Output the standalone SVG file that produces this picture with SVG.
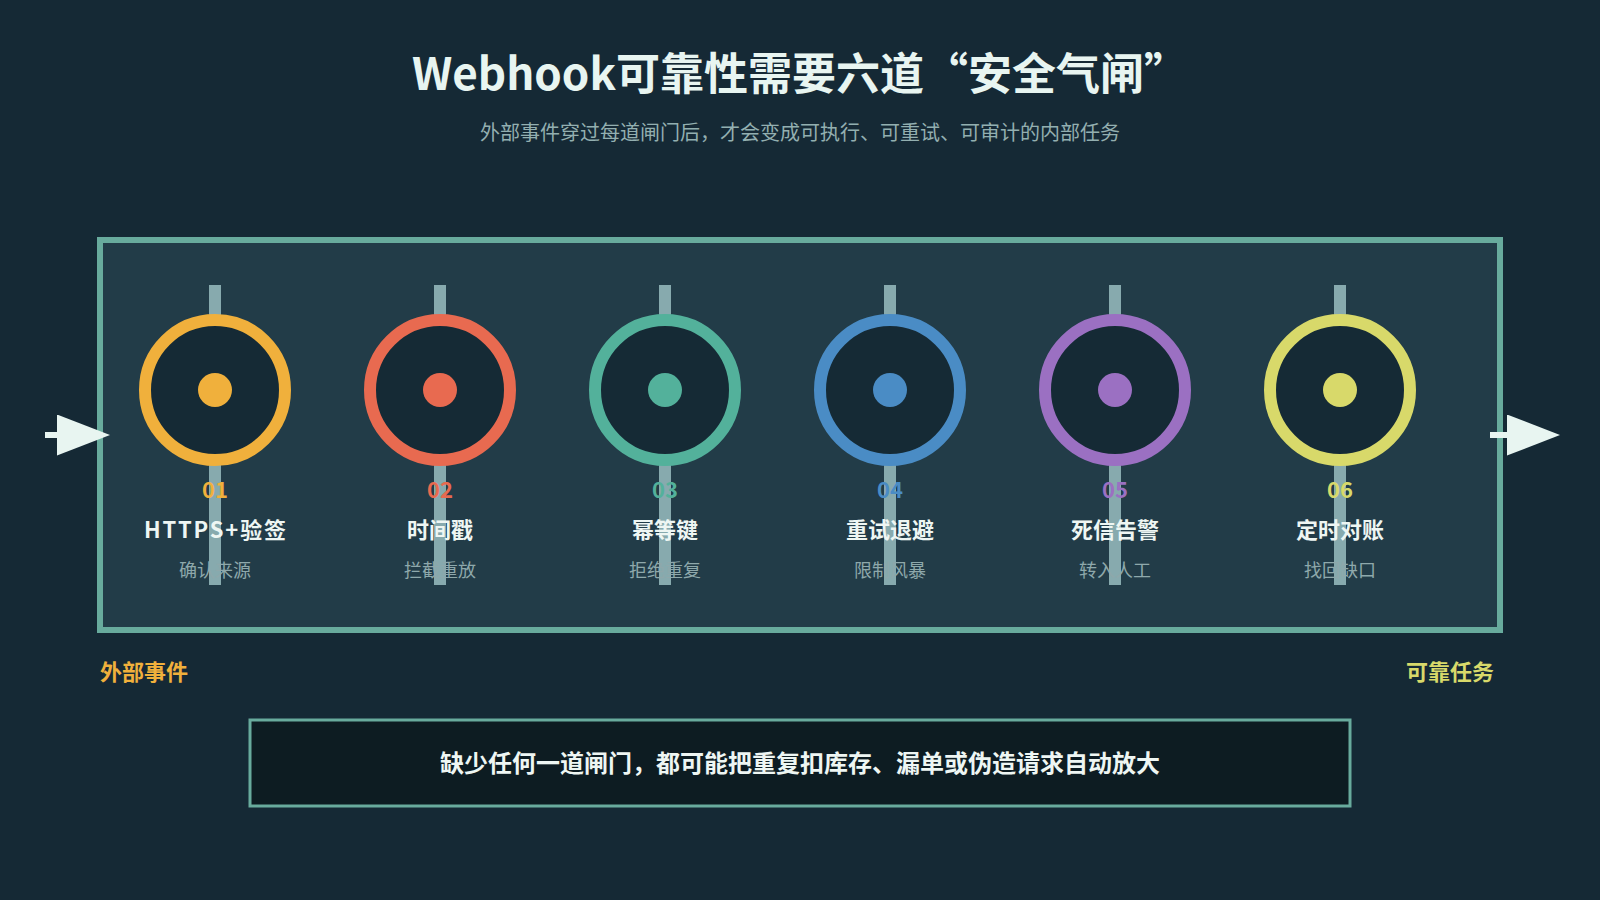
<svg xmlns="http://www.w3.org/2000/svg" width="1600" height="900" viewBox="0 0 1600 900">
<defs>
<style>
text{font-family:"Noto Sans CJK SC","Noto Sans",sans-serif;text-anchor:middle}
.title{font-size:44px;font-weight:700;fill:#e8f5f1}
.sub{font-size:20px;fill:#93afb0}
.bar{fill:#87aaae}
.ring{fill:#152a35;stroke-width:12}
.num{font-size:22px;font-weight:700}
.name{font-size:22px;font-weight:700;fill:#eef6f3}
.desc{font-size:18px;fill:#8ea8ab}
.conn{stroke:#e8f5f1;stroke-width:6;fill:none}
.lbl{font-size:22px;font-weight:700}
</style>
<marker id="arr" markerUnits="userSpaceOnUse" markerWidth="53" markerHeight="41" refX="3" refY="20.5" orient="auto">
<path d="M0,0 L53,20.5 L0,41 Z" fill="#e8f5f1"/>
</marker>
</defs>
<rect width="1600" height="900" fill="#152935"/>
<text class="title" x="800" y="90">Webhook可靠性需要六道“安全气闸”</text>
<text class="sub" x="800" y="140">外部事件穿过每道闸门后，才会变成可执行、可重试、可审计的内部任务</text>
<g id="frame">
<rect x="100" y="240" width="1400" height="390" fill="#223c48" stroke="#68ab9d" stroke-width="6"/>
</g>
<g id="connectors">
<line class="conn" x1="45" y1="435" x2="60" y2="435" marker-end="url(#arr)"/>
<line class="conn" x1="1490" y1="435" x2="1510" y2="435" marker-end="url(#arr)"/>
</g>
<g id="gate1">
<rect class="bar" x="209" y="285" width="12" height="300"/>
<circle class="ring" cx="215" cy="390" r="70" stroke="#f0b03c"/>
<circle cx="215" cy="390" r="17" fill="#f0b03c"/>
<text class="num" x="215" y="498" fill="#f0b03c">01</text>
<text class="name" x="215" y="538" textLength="142" lengthAdjust="spacing">HTTPS+验签</text>
<text class="desc" x="215" y="577">确认来源</text>
</g>
<g id="gate2">
<rect class="bar" x="434" y="285" width="12" height="300"/>
<circle class="ring" cx="440" cy="390" r="70" stroke="#e86a50"/>
<circle cx="440" cy="390" r="17" fill="#e86a50"/>
<text class="num" x="440" y="498" fill="#e86a50">02</text>
<text class="name" x="440" y="538">时间戳</text>
<text class="desc" x="440" y="577">拦截重放</text>
</g>
<g id="gate3">
<rect class="bar" x="659" y="285" width="12" height="300"/>
<circle class="ring" cx="665" cy="390" r="70" stroke="#53b19b"/>
<circle cx="665" cy="390" r="17" fill="#53b19b"/>
<text class="num" x="665" y="498" fill="#53b19b">03</text>
<text class="name" x="665" y="538">幂等键</text>
<text class="desc" x="665" y="577">拒绝重复</text>
</g>
<g id="gate4">
<rect class="bar" x="884" y="285" width="12" height="300"/>
<circle class="ring" cx="890" cy="390" r="70" stroke="#4a8cc5"/>
<circle cx="890" cy="390" r="17" fill="#4a8cc5"/>
<text class="num" x="890" y="498" fill="#4a8cc5">04</text>
<text class="name" x="890" y="538">重试退避</text>
<text class="desc" x="890" y="577">限制风暴</text>
</g>
<g id="gate5">
<rect class="bar" x="1109" y="285" width="12" height="300"/>
<circle class="ring" cx="1115" cy="390" r="70" stroke="#9b70c2"/>
<circle cx="1115" cy="390" r="17" fill="#9b70c2"/>
<text class="num" x="1115" y="498" fill="#9b70c2">05</text>
<text class="name" x="1115" y="538">死信告警</text>
<text class="desc" x="1115" y="577">转入人工</text>
</g>
<g id="gate6">
<rect class="bar" x="1334" y="285" width="12" height="300"/>
<circle class="ring" cx="1340" cy="390" r="70" stroke="#d8d96a"/>
<circle cx="1340" cy="390" r="17" fill="#d8d96a"/>
<text class="num" x="1340" y="498" fill="#d8d96a">06</text>
<text class="name" x="1340" y="538">定时对账</text>
<text class="desc" x="1340" y="577">找回缺口</text>
</g>
<g id="label-in">
<text class="lbl" x="100" y="680" style="text-anchor:start" fill="#f0b03c">外部事件</text>
</g>
<g id="label-out">
<text class="lbl" x="1494" y="680" style="text-anchor:end" fill="#d8d96a">可靠任务</text>
</g>
<g id="note">
<rect x="250" y="720" width="1100" height="86" fill="#0d1c22" stroke="#68ab9d" stroke-width="3"/>
<text x="800" y="772" style="font-size:24px;font-weight:700" fill="#eef6f3">缺少任何一道闸门，都可能把重复扣库存、漏单或伪造请求自动放大</text>
</g>
</svg>
